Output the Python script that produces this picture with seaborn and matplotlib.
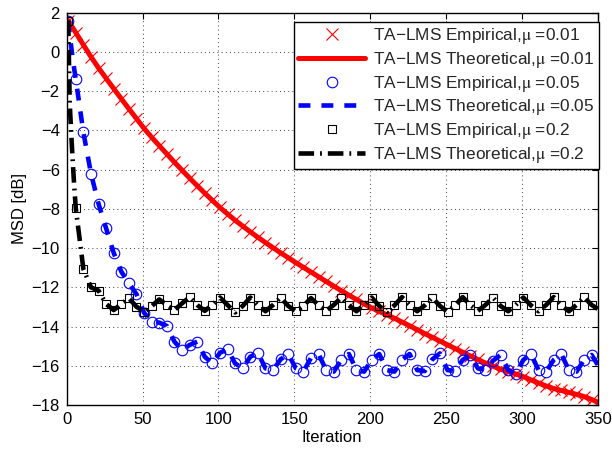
import matplotlib
matplotlib.use("Agg")
import matplotlib.pyplot as plt
import seaborn as sns

# ---------------- data ----------------
EMP_ITER = list(range(1, 350, 5))          # 1, 6, ..., 346

RED_EMP = [1.60, 0.98, 0.36, -0.25, -0.82, -1.35, -1.87, -2.39, -2.90, -3.40,
           -3.90, -4.35, -4.78, -5.20, -5.62, -6.03, -6.43, -6.82, -7.20, -7.57,
           -7.93, -8.26, -8.58, -8.88, -9.17, -9.45, -9.72, -9.98, -10.24, -10.49,
           -10.74, -10.98, -11.22, -11.46, -11.70, -11.94, -12.17, -12.40, -12.62, -12.84,
           -13.05, -13.23, -13.40, -13.58, -13.77, -13.96, -14.16, -14.36, -14.55, -14.74,
           -14.93, -15.12, -15.31, -15.50, -15.68, -15.86, -16.02, -16.18, -16.30, -16.42,
           -16.56, -16.72, -16.88, -17.03, -17.16, -17.26, -17.36, -17.46, -17.57, -17.72]

BLUE_EMP = [1.60, -1.40, -4.10, -6.20, -7.75, -9.00, -10.25, -11.20, -11.80, -12.35,
            -13.30, -13.75, -13.80, -13.97, -14.77, -15.20, -14.94, -14.77, -15.54, -15.88,
            -15.34, -15.15, -15.88, -16.13, -15.54, -15.34, -16.13, -16.22, -15.67, -15.40,
            -16.13, -16.30, -15.60, -15.40, -16.22, -16.30, -15.70, -15.40, -16.22, -16.30,
            -15.70, -15.40, -16.22, -16.30, -15.70, -15.40, -16.22, -16.27, -15.67, -15.37,
            -16.22, -16.27, -15.70, -15.45, -16.13, -16.22, -15.74, -15.45, -16.22, -16.40,
            -15.70, -15.40, -16.22, -16.30, -15.70, -15.40, -16.22, -16.30, -15.70, -15.45]

BLACK_EMP = [1.60, -7.98, -11.07, -12.00, -12.17, -12.85, -13.16, -12.85, -12.56, -12.99,
             -13.24, -12.96, -12.62, -12.90, -13.16, -12.82, -12.50, -12.90, -13.20, -12.90,
             -12.52, -12.90, -13.28, -12.95, -12.52, -12.90, -13.22, -12.90, -12.52, -12.95,
             -13.22, -12.95, -12.55, -12.92, -13.20, -12.90, -12.52, -12.92, -13.22, -12.90,
             -12.52, -12.95, -13.25, -12.92, -12.50, -12.90, -13.22, -12.92, -12.52, -12.95,
             -13.25, -12.92, -12.50, -12.90, -13.20, -12.90, -12.52, -12.95, -13.22, -12.90,
             -12.52, -12.92, -13.22, -12.90, -12.50, -12.92, -13.22, -12.90, -12.50, -12.90]

# theoretical curves: dense first iterations, then the same grid, ending at 350
THEO_START = [1, 2, 3, 4, 5]
THEO_ITER = THEO_START + EMP_ITER[1:] + [350]
RED_THEO = [1.60, 1.48, 1.35, 1.23, 1.10] + RED_EMP[1:] + [-17.85]
BLUE_THEO = [1.60, 0.85, 0.25, -0.35, -0.90] + BLUE_EMP[1:] + [-15.95]
BLACK_THEO = [1.60, -2.60, -4.20, -5.60, -6.90] + BLACK_EMP[1:] + [-13.10]

MUS = ["0.01", "0.05", "0.2"]
X_TICKS = [0, 50, 100, 150, 200, 250, 300, 350]
Y_TICKS = [-18, -16, -14, -12, -10, -8, -6, -4, -2, 0, 2]

# ---------------- style ----------------
sns.set_style("white")
plt.rcParams['font.family'] = ['Liberation Sans', 'DejaVu Sans']
plt.rcParams['mathtext.fontset'] = 'stix'
plt.rcParams['axes.unicode_minus'] = True

fig = plt.figure(figsize=(6.12, 4.5), dpi=100)
ax = fig.add_axes([66.7 / 612, 45 / 450, (597.7 - 66.7) / 612, (405 - 12.7) / 450])

specs = [
    (EMP_ITER, RED_EMP, THEO_ITER, RED_THEO, "#ff0000",
     dict(marker="x", markersize=8.0, markeredgewidth=0.8),
     dict(linestyle="-", linewidth=3.6), MUS[0]),
    (EMP_ITER, BLUE_EMP, THEO_ITER, BLUE_THEO, "#0000ff",
     dict(marker="o", markersize=7.6, markeredgewidth=0.8, markerfacecolor="none"),
     dict(linestyle=(0, (2.6, 2.4)), linewidth=3.3), MUS[1]),
    (EMP_ITER, BLACK_EMP, THEO_ITER, BLACK_THEO, "#000000",
     dict(marker="s", markersize=6.0, markeredgewidth=0.8, markerfacecolor="none"),
     dict(linestyle=(0, (3.4, 1.3, 0.4, 1.3)), linewidth=3.3), MUS[2]),
]

for ex, ey, tx, ty, col, mk, ls, mu in specs:
    sns.lineplot(x=ex, y=ey, ax=ax, color=col, linestyle="", markeredgecolor=col,
                 label="TA\u2212LMS Empirical,$\\mathrm{\\mu}$ =" + mu, **mk)
    sns.lineplot(x=tx, y=ty, ax=ax, color=col,
                 label="TA\u2212LMS Theoretical,$\\mathrm{\\mu}$ =" + mu, **ls)

ax.set_xlim(0, 350)
ax.set_ylim(-18, 2)
ax.set_xticks(X_TICKS)
ax.set_yticks(Y_TICKS)
ax.set_axisbelow(True)
ax.grid(True, linestyle=(0, (1, 4)), color="black", linewidth=0.6)
ax.tick_params(direction="in", top=True, right=True, length=4.5, width=0.8,
               labelsize=12, colors="black", pad=5)
for sp in ax.spines.values():
    sp.set_color("black")
    sp.set_linewidth(1.0)

ax.set_xlabel("Iteration", fontsize=12, labelpad=2, color="black")
ax.set_ylabel("MSD [dB]", fontsize=12, labelpad=3, color="black")

handles, labels = ax.get_legend_handles_labels()
leg = ax.legend(handles, labels, loc="upper right", bbox_to_anchor=(1.002, 0.977),
                borderaxespad=0, frameon=True, fancybox=False, framealpha=1,
                edgecolor="black", prop={"size": 12.4}, borderpad=0.25,
                labelspacing=0.22, handlelength=3.9, handletextpad=0.45)
leg.get_frame().set_linewidth(1.0)

fig.savefig("out.png", dpi=100)
